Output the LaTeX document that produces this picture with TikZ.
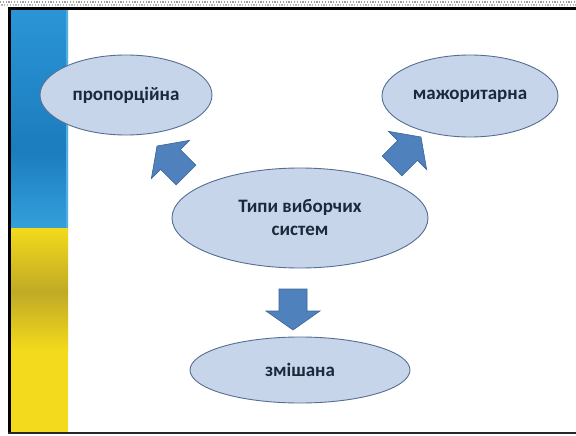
\documentclass[tikz,border=0pt]{standalone}
\usepackage{fontspec}
\setmainfont{Carlito}
\usetikzlibrary{shapes.geometric}
\definecolor{ellfill}{HTML}{C6D5EA}
\definecolor{elldraw}{HTML}{566E92}
\definecolor{txt}{HTML}{1B293B}
\definecolor{arrfill}{HTML}{4F81BD}
\definecolor{arrdraw}{HTML}{3C6496}
\definecolor{flagblue}{HTML}{2A95D6}
\definecolor{flagbluedark}{HTML}{1C7CBD}
\definecolor{flagbluelight}{HTML}{33A0DC}
\definecolor{flagyellow}{HTML}{F3DA1C}
\definecolor{flagolive}{HTML}{C0AA25}
\tikzset{
  oval/.style={ellipse, draw=elldraw, line width=0.9pt, fill=ellfill, text=txt,
    font=\fontsize{19}{23}\selectfont\bfseries, align=center, inner sep=0pt},
  blockarrow/.pic={
    \fill[arrfill, draw=arrdraw, line width=0.6pt]
      (0,-14) -- (22,-14) -- (22,-27) -- (41,0) -- (22,27) -- (22,14) -- (0,14) -- cycle;
  }
}
\begin{document}
\begin{tikzpicture}[x=1pt, y=-1pt]
\useasboundingbox (0,0) rectangle (576,436);
\fill[white] (0,0) rectangle (576,436);
% top dotted strip
\draw[gray!75, line width=1.2pt, dash pattern=on 1.2pt off 1.6pt] (0,2) -- (576,2);
\draw[gray!60, line width=1.2pt, dash pattern=on 1.2pt off 1.6pt, dash phase=1.4pt] (0,5) -- (576,5);
% flag
\shade[top color=flagblue, bottom color=flagbluedark] (11,10) rectangle (68,150);
\shade[top color=flagbluedark, bottom color=flagbluelight] (11,150) rectangle (68,228);
\fill[flagbluelight!85!white] (66,10) rectangle (68,228);
\shade[top color=flagyellow, bottom color=flagolive] (11,228) rectangle (68,292);
\shade[top color=flagolive, bottom color=flagyellow] (11,292) rectangle (68,350);
\fill[flagyellow] (11,350) rectangle (68,432);
% frame
\draw[black, line width=3pt] (9.5,8.5) -- (576,8.5);
\draw[black, line width=3pt] (9.5,7) -- (9.5,434);
\draw[black!85, line width=2pt] (8,433) -- (576,433);
% ellipses
\node[oval, minimum width=172pt, minimum height=80pt] (prop) at (126,95) {пропорційна};
\node[oval, minimum width=176pt, minimum height=82pt] (major) at (470,96) {мажоритарна};
\node[oval, minimum width=256pt, minimum height=100pt] (types) at (300,218) {Типи виборчих\\систем};
\node[oval, minimum width=220pt, minimum height=66pt] (mixed) at (300,370) {змішана};
% block arrows
\coordinate (aL) at (186,175);
\coordinate (aR) at (392,166);
\coordinate (aD) at (293,289);
\pic[rotate=135] at (aL) {blockarrow};
\pic[rotate=45] at (aR) {blockarrow};
\pic[rotate=-90] at (aD) {blockarrow};
\end{tikzpicture}
\end{document}
